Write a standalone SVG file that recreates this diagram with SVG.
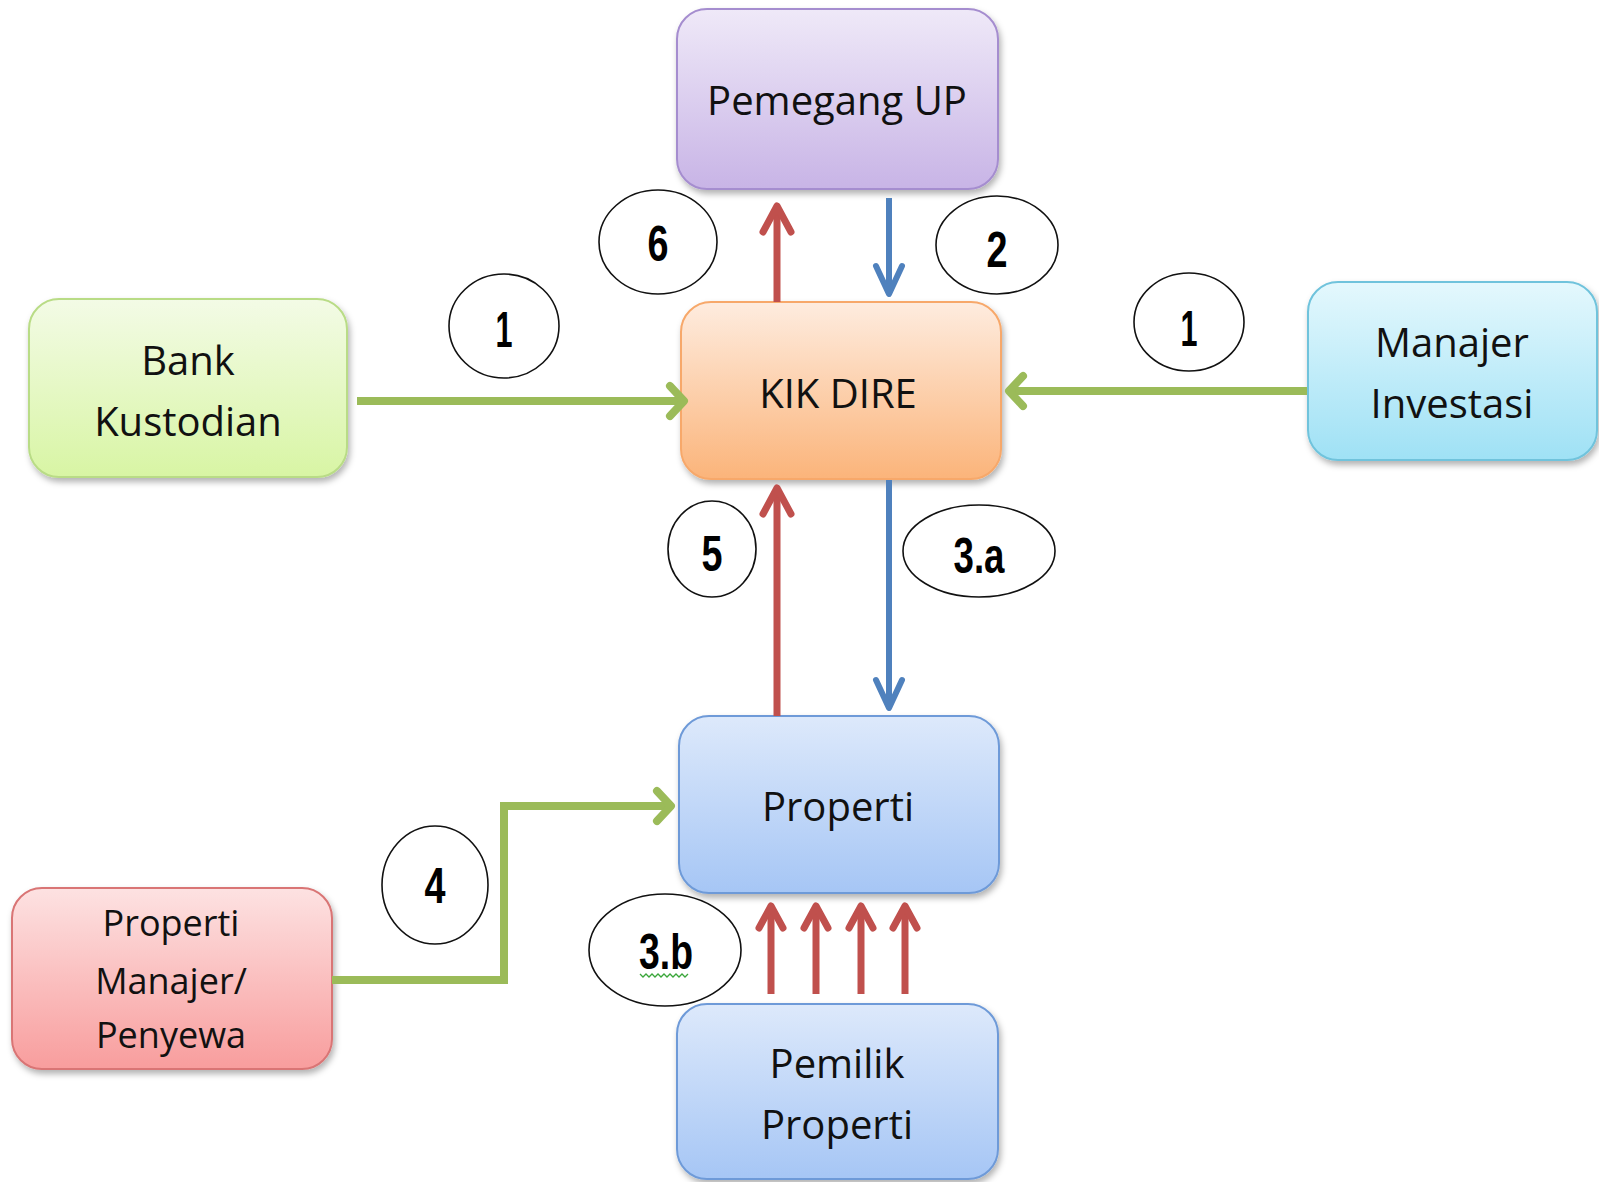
<svg xmlns="http://www.w3.org/2000/svg" width="1599" height="1182" viewBox="0 0 1599 1182">
<style>
.node text{font-family:"Open Sans","Liberation Sans",sans-serif;font-size:40px;fill:#111;text-anchor:middle}
.num{font-family:"Liberation Sans",Arial,sans-serif;font-weight:bold;font-size:50px;fill:#000;text-anchor:middle}
.ell{fill:#fff;stroke:#111;stroke-width:1.6}
.g{stroke:#9bbb59;stroke-width:8;fill:none}
.r{stroke:#c0504d;stroke-width:7;fill:none}
.b{stroke:#4f81bd;stroke-width:6;fill:none}
</style>
<defs>
<filter id="sh" x="-10%" y="-10%" width="125%" height="130%"><feDropShadow dx="2" dy="4" stdDeviation="3" flood-color="#000" flood-opacity="0.3"/></filter>
<linearGradient id="gp" x1="0" y1="0" x2="0" y2="1"><stop offset="0" stop-color="#efe9f8"/><stop offset="1" stop-color="#c8b4e6"/></linearGradient>
<linearGradient id="go" x1="0" y1="0" x2="0" y2="1"><stop offset="0" stop-color="#feecdf"/><stop offset="1" stop-color="#fbb47a"/></linearGradient>
<linearGradient id="gg" x1="0" y1="0" x2="0" y2="1"><stop offset="0" stop-color="#f3fbe6"/><stop offset="1" stop-color="#d8f5a4"/></linearGradient>
<linearGradient id="gc" x1="0" y1="0" x2="0" y2="1"><stop offset="0" stop-color="#e4f8fd"/><stop offset="1" stop-color="#9fe1f5"/></linearGradient>
<linearGradient id="gb" x1="0" y1="0" x2="0" y2="1"><stop offset="0" stop-color="#dde9fb"/><stop offset="1" stop-color="#a6c6f5"/></linearGradient>
<linearGradient id="gr" x1="0" y1="0" x2="0" y2="1"><stop offset="0" stop-color="#fde2e2"/><stop offset="1" stop-color="#f89d9d"/></linearGradient>
<marker id="ag" viewBox="-24 -22 30 44" refX="0" refY="0" markerWidth="30" markerHeight="44" markerUnits="userSpaceOnUse" orient="auto"><path d="M-14,-15 L0,0 L-14,15" fill="none" stroke="#9bbb59" stroke-width="8" stroke-linecap="round" stroke-linejoin="round"/></marker>
<marker id="ar" viewBox="-34 -22 40 44" refX="0" refY="0" markerWidth="40" markerHeight="44" markerUnits="userSpaceOnUse" orient="auto"><path d="M-26,-14 L0,0 L-26,14" fill="none" stroke="#c0504d" stroke-width="7" stroke-linecap="round" stroke-linejoin="round"/></marker>
<marker id="ars" viewBox="-30 -20 36 40" refX="0" refY="0" markerWidth="36" markerHeight="40" markerUnits="userSpaceOnUse" orient="auto"><path d="M-22,-12 L0,0 L-22,12" fill="none" stroke="#c0504d" stroke-width="7" stroke-linecap="round" stroke-linejoin="round"/></marker>
<marker id="ab" viewBox="-34 -22 40 44" refX="0" refY="0" markerWidth="40" markerHeight="44" markerUnits="userSpaceOnUse" orient="auto"><path d="M-28,-13 L0,0 L-28,13" fill="none" stroke="#4f81bd" stroke-width="6" stroke-linecap="round" stroke-linejoin="round"/></marker>
</defs>
<rect width="1599" height="1182" fill="#fff"/>

<g id="pemegang-up" class="node"><rect x="677" y="9" width="321" height="180" rx="30" fill="url(#gp)" stroke="#a58dcf" stroke-width="2" filter="url(#sh)"/><text x="837" y="115">Pemegang UP</text></g>
<g id="kik-dire" class="node"><rect x="681" y="302" width="320" height="177" rx="30" fill="url(#go)" stroke="#f7a86a" stroke-width="2" filter="url(#sh)"/><text x="838" y="408">KIK DIRE</text></g>
<g id="bank-kustodian" class="node"><rect x="29" y="299" width="318" height="178" rx="30" fill="url(#gg)" stroke="#b9dc86" stroke-width="2" filter="url(#sh)"/><text x="188" y="375">Bank</text><text x="188" y="436">Kustodian</text></g>
<g id="manajer-investasi" class="node"><rect x="1308" y="282" width="289" height="178" rx="30" fill="url(#gc)" stroke="#6fc3dc" stroke-width="2" filter="url(#sh)"/><text x="1452" y="357">Manajer</text><text x="1452" y="418">Investasi</text></g>
<g id="properti" class="node"><rect x="679" y="716" width="320" height="177" rx="30" fill="url(#gb)" stroke="#6e9ad8" stroke-width="2" filter="url(#sh)"/><text x="838" y="821">Properti</text></g>
<g id="properti-manajer-penyewa" class="node"><rect x="12" y="888" width="320" height="181" rx="30" fill="url(#gr)" stroke="#d97474" stroke-width="2" filter="url(#sh)"/><text x="171" y="936" style="font-size:36px">Properti</text><text x="171" y="994" style="font-size:36px">Manajer/</text><text x="171" y="1048" style="font-size:36px">Penyewa</text></g>
<g id="pemilik-properti" class="node"><rect x="677" y="1004" width="321" height="175" rx="30" fill="url(#gb)" stroke="#6e9ad8" stroke-width="2" filter="url(#sh)"/><text x="837" y="1078">Pemilik</text><text x="837" y="1139">Properti</text></g>

<g id="connectors">
<path class="r" d="M777,302 V206" marker-end="url(#ar)"/>
<path class="b" d="M889,198 V294" marker-end="url(#ab)"/>
<path class="g" d="M357,401 H684" marker-end="url(#ag)"/>
<path class="g" d="M1307,391 H1009" marker-end="url(#ag)"/>
<path class="r" d="M777,716 V488" marker-end="url(#ar)"/>
<path class="b" d="M889,480 V708" marker-end="url(#ab)"/>
<path class="g" d="M332,980 H504 V806 H671" marker-end="url(#ag)"/>
<path class="r" d="M771,994 V906" marker-end="url(#ars)"/>
<path class="r" d="M816,994 V906" marker-end="url(#ars)"/>
<path class="r" d="M861,994 V906" marker-end="url(#ars)"/>
<path class="r" d="M905,994 V906" marker-end="url(#ars)"/>
</g>

<g id="labels">
<ellipse class="ell" cx="658" cy="242" rx="59" ry="52"/><text class="num" x="658" y="261" textLength="21" lengthAdjust="spacingAndGlyphs">6</text>
<ellipse class="ell" cx="997" cy="245" rx="61" ry="49"/><text class="num" x="997" y="267" textLength="21" lengthAdjust="spacingAndGlyphs">2</text>
<ellipse class="ell" cx="504" cy="326" rx="55" ry="52"/><text class="num" x="504" y="347" textLength="17" lengthAdjust="spacingAndGlyphs">1</text>
<ellipse class="ell" cx="1189" cy="322" rx="55" ry="49"/><text class="num" x="1189" y="346" textLength="17" lengthAdjust="spacingAndGlyphs">1</text>
<ellipse class="ell" cx="712" cy="549" rx="44" ry="48"/><text class="num" x="712" y="571" textLength="21" lengthAdjust="spacingAndGlyphs">5</text>
<ellipse class="ell" cx="979" cy="551" rx="76" ry="46"/><text class="num" x="979" y="573" textLength="51" lengthAdjust="spacingAndGlyphs">3.a</text>
<ellipse class="ell" cx="435" cy="885" rx="53" ry="59"/><text class="num" x="435" y="903" textLength="21" lengthAdjust="spacingAndGlyphs">4</text>
<ellipse class="ell" cx="665" cy="950" rx="76" ry="56"/><text class="num" x="666" y="969" textLength="54" lengthAdjust="spacingAndGlyphs">3.b</text>
<path d="M640,974 l3,3 l3,-3 l3,3 l3,-3 l3,3 l3,-3 l3,3 l3,-3 l3,3 l3,-3 l3,3 l3,-3 l3,3 l3,-3 l3,3 l3,-3" fill="none" stroke="#3aa63a" stroke-width="1.3"/>
</g>
</svg>
